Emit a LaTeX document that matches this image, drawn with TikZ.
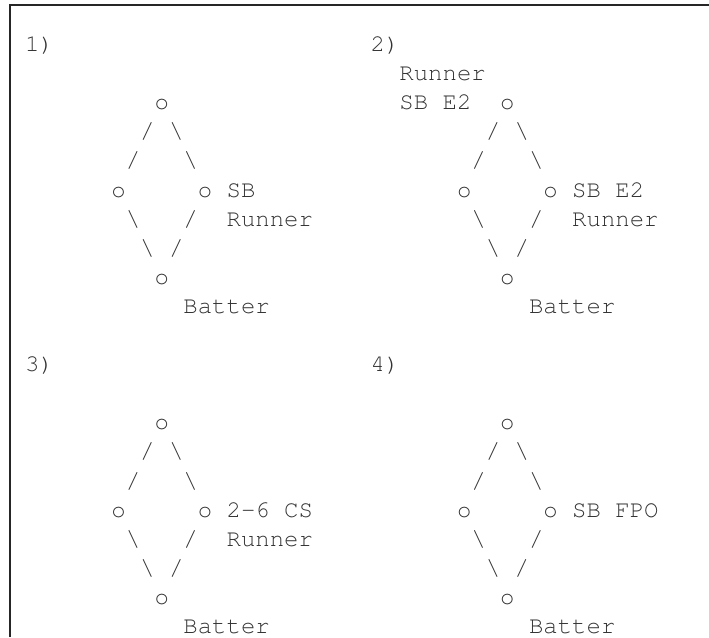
\documentclass[tikz,border=0pt]{standalone}
\usepackage[T1]{fontenc}

\tikzset{
	glyph/.style={anchor=base west, inner sep=0pt, outer sep=0pt,
		font=\fontfamily{pcr}\fontsize{18}{18}\selectfont, text=black!80},
	frame/.style={line width=1.5pt, draw=black!85},
}

\begin{document}
\begin{tikzpicture}[x=10.8pt, y=-21.825pt]
	\useasboundingbox (0pt,0pt) rectangle (531.75pt,-477.75pt);
	\draw[frame] (7.5pt,-477.75pt) |- (531.75pt,-3.75pt);
	\begin{scope}[shift={(18.75pt,-38.625pt)}]
		% one diamond per play
		\foreach \k/\cx/\ry in {1/0/0, 2/24/0, 3/0/11, 4/24/11} {
			\begin{scope}[shift={(\cx,\ry)}]
				\node[glyph] (play\k) at (0,0) {\k)};
				\node[glyph] (second\k) at (9,2) {o};
				\node[glyph] at (8,3) {/};
				\node[glyph] at (10,3) {\textbackslash};
				\node[glyph] at (7,4) {/};
				\node[glyph] at (11,4) {\textbackslash};
				\node[glyph] (third\k) at (6,5) {o};
				\node[glyph] (first\k) at (12,5) {o};
				\node[glyph] at (7,6) {\textbackslash};
				\node[glyph] at (11,6) {/};
				\node[glyph] at (8,7) {\textbackslash};
				\node[glyph] at (10,7) {/};
				\node[glyph] (home\k) at (9,8) {o};
				\node[glyph] (batter\k) at (11,9) {Batter};
			\end{scope}
		}
		% 1)
		\node[glyph] (sb1) at (14,5) {SB};
		\node[glyph] (run1) at (14,6) {Runner};
		% 2)
		\node[glyph] (run2a) at (26,1) {Runner};
		\node[glyph] (sb2a) at (26,2) {SB E2};
		\node[glyph] (sb2) at (38,5) {SB E2};
		\node[glyph] (run2) at (38,6) {Runner};
		% 3)
		\node[glyph] (cs3) at (14,16) {2-6 CS};
		\node[glyph] (run3) at (14,17) {Runner};
		% 4)
		\node[glyph] (fpo4) at (38,16) {SB FPO};
	\end{scope}
\end{tikzpicture}
\end{document}
